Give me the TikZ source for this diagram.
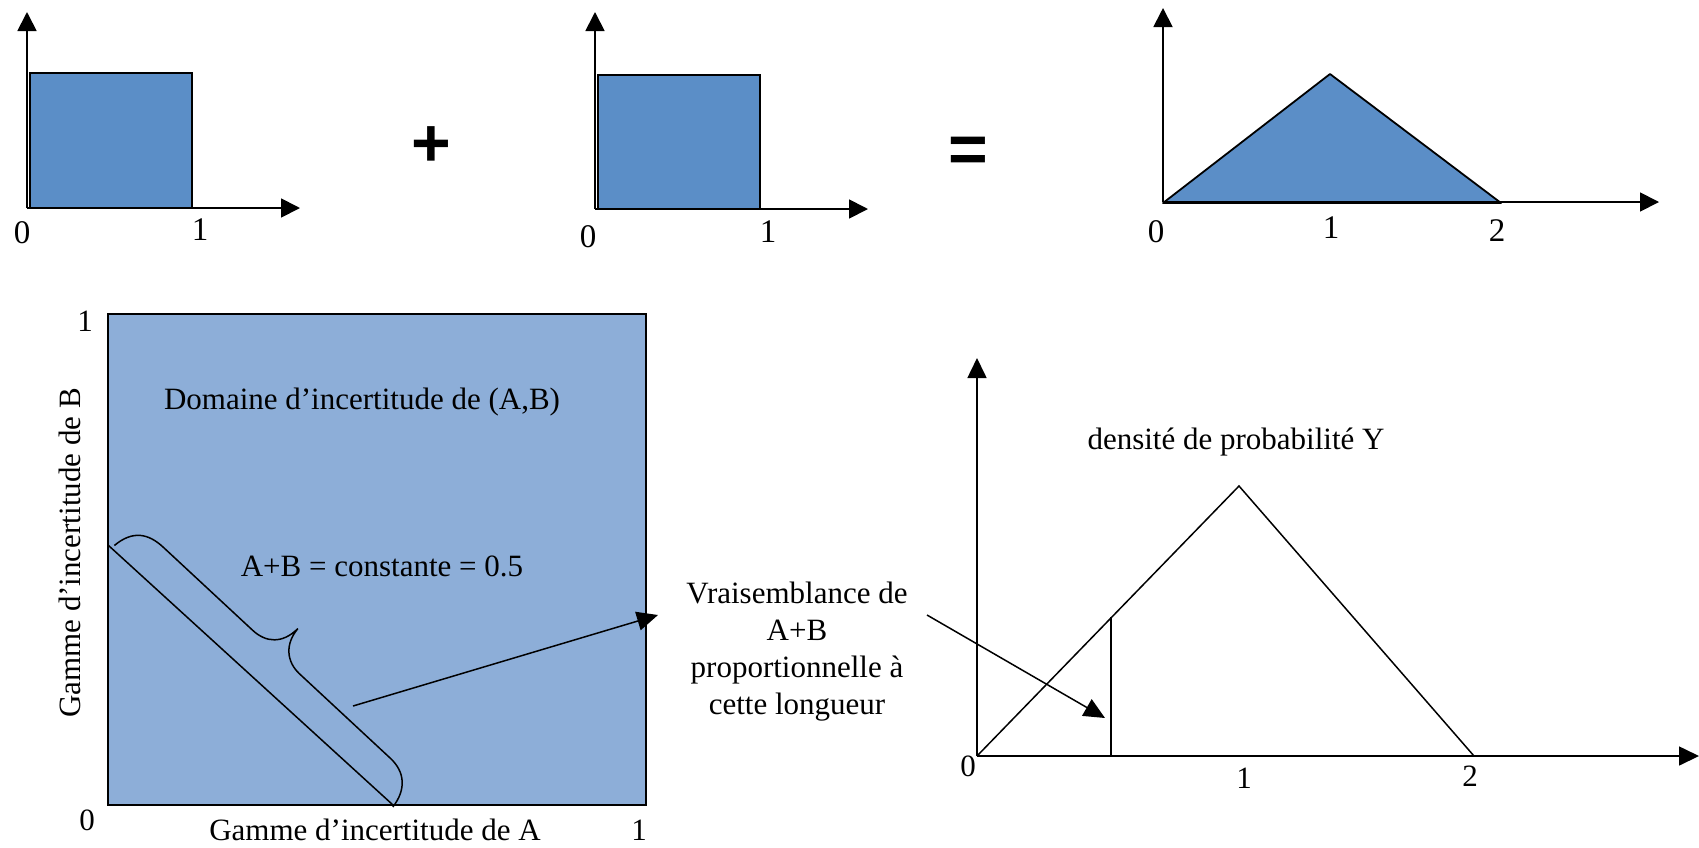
\documentclass[tikz,border=0pt]{standalone}
\usepackage{fontspec}
\setmainfont{Liberation Serif}
\newfontfamily\symfont{Liberation Sans}
\usetikzlibrary{arrows.meta}
\definecolor{boxblue}{RGB}{91,142,199}
\definecolor{sqblue}{RGB}{141,174,216}
\begin{document}
\begin{tikzpicture}[x=1pt,y=-1pt,
  axis/.style={line width=1.8pt,-{Triangle[length=19pt,width=19pt]}},
  thinaxis/.style={line width=1.6pt,-{Triangle[length=20pt,width=19pt]}},
  pointer/.style={line width=1.5pt,-{Triangle[length=21pt,width=19pt]}},
  plain/.style={line width=1.5pt},
  lbl/.style={font=\fontsize{33}{38}\selectfont, inner sep=0pt},
  txt/.style={font=\fontsize{31}{37}\selectfont, inner sep=0pt, align=center},
  op/.style={font=\symfont\bfseries\fontsize{68}{70}\selectfont, inner sep=0pt},
]
\useasboundingbox (0,0) rectangle (1699,847);

% ---- plot 1 : uniform on [0,1]
\coordinate (o1) at (27,208);
\coordinate (y1) at (27,12);
\coordinate (x1) at (300,208);
\filldraw[fill=boxblue, draw=black, line width=1.8pt] (30,73) rectangle (192,208);
\draw[axis] (o1) -- (y1);
\draw[axis] (o1) -- (x1);
\node[lbl] (p1zero) at (22,233) {0};
\node[lbl] (p1one) at (200,230) {1};

\node[op] (plus) at (431,147) {+};

% ---- plot 2 : uniform on [0,1]
\coordinate (o2) at (595,209);
\coordinate (y2) at (595,12);
\coordinate (x2) at (868,209);
\filldraw[fill=boxblue, draw=black, line width=1.8pt] (598,75) rectangle (760,209);
\draw[axis] (o2) -- (y2);
\draw[axis] (o2) -- (x2);
\node[lbl] (p2zero) at (588,237) {0};
\node[lbl] (p2one) at (768,232) {1};

\node[op] (equals) at (968,155) {=};

% ---- plot 3 : triangular on [0,2]
\coordinate (o3) at (1163,202);
\coordinate (y3) at (1163,8);
\coordinate (x3) at (1659,202);
\filldraw[fill=boxblue, draw=black, line width=1.8pt, line join=round] (1163,203) -- (1330,74) -- (1501,203) -- cycle;
\draw[axis] (o3) -- (y3);
\draw[axis] (o3) -- (x3);
\node[lbl] (p3zero) at (1156,232) {0};
\node[lbl] (p3one) at (1331,228) {1};
\node[lbl] (p3two) at (1497,231) {2};

% ---- bottom left : domain square
\filldraw[fill=sqblue, draw=black, line width=1.5pt] (108,314) rectangle (646,805);
\draw[plain] (108,545) -- (393,805);
\begin{scope}[shift={(108,545)}, y=1pt, rotate=-42.9]
  \draw[line width=1.5pt]
    (5,4) .. controls (8,28) and (22,36) .. (42,36) -- (164,36)
    .. controls (182,36) and (195,46) .. (196,68)
    .. controls (197,48) and (210,36) .. (228,36) -- (352,36)
    .. controls (372,36) and (385,24) .. (387,2);
\end{scope}
\coordinate (bracefrom) at (353,706);
\coordinate (edgeto) at (658,615);
\draw[pointer] (bracefrom) -- (edgeto);
\node[txt] (sqone) at (85,321) {1};
\node[txt] (sqzero) at (87,820) {0};
\node[txt] (sqoneA) at (639,830) {1};
\node[txt] (labA) at (375,830) {Gamme d’incertitude de A};
\node[txt, rotate=90] (labB) at (70,553) {Gamme d’incertitude de B};
\node[txt] (domaine) at (362,402) {Domaine d’incertitude de (A,B)};
\node[txt] (constante) at (382,566) {A+B = constante = 0.5};

% ---- bottom right : density of Y
\coordinate (o4) at (977,756);
\coordinate (y4) at (977,358);
\coordinate (x4) at (1699,756);
\coordinate (peak) at (1239,486);
\coordinate (two) at (1474,756);
\coordinate (cutbase) at (1111,756);
\coordinate (cuttop) at (1111,617);
\draw[thinaxis] (o4) -- (y4);
\draw[thinaxis] (o4) -- (x4);
\draw[plain, line join=miter] (o4) -- (peak) -- (two);
\draw[plain] (cutbase) -- (cuttop);
\node[txt] (dens) at (1236,442) {densité de probabilité Y};
\node[txt] (vrais) at (797,652) {Vraisemblance de\\A+B\\proportionnelle à\\cette longueur};
\coordinate (vfrom) at (927,615);
\coordinate (vto) at (1105,718);
\draw[pointer] (vfrom) -- (vto);
\node[txt] (dzero) at (968,766) {0};
\node[txt] (done) at (1244,778) {1};
\node[txt] (dtwo) at (1470,776) {2};
\end{tikzpicture}
\end{document}
